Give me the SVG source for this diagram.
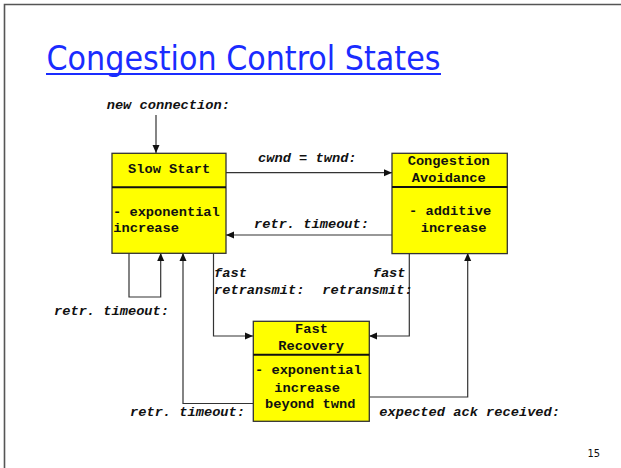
<svg xmlns="http://www.w3.org/2000/svg" width="621" height="468" viewBox="0 0 621 468">
<defs>
<marker id="ah" markerUnits="userSpaceOnUse" markerWidth="9" markerHeight="8" refX="8" refY="4" orient="auto">
<path d="M0,0.5 L8,4 L0,7.5 Z" fill="#111"/>
</marker>
<style>
.box{fill:#ffff00;stroke:#333;stroke-width:1.3}
.div{stroke:#111;stroke-width:2}
.bt{font-family:"Liberation Mono","Courier New",monospace;font-weight:bold;font-size:13.7px;fill:#111}
.lb{font-family:"Liberation Mono","Courier New",monospace;font-weight:bold;font-style:italic;font-size:13.7px;fill:#111}
.cn{fill:none;stroke:#333;stroke-width:1.2}
</style>
</defs>
<rect x="0" y="0" width="621" height="468" fill="#fff"/>
<path d="M4.5,468 V4.5 H621" fill="none" stroke="#555" stroke-width="1.6"/>
<g id="title">
<text x="46.5" y="69.5" font-family="'DejaVu Sans Condensed','DejaVu Sans',sans-serif" font-size="34" fill="#1a2cff" textLength="394" lengthAdjust="spacingAndGlyphs">Congestion Control States</text>
<rect x="46" y="73" width="395" height="2" fill="#1a2cff"/>
</g>
<g id="connectors">
<path class="cn" d="M156,115 V153" marker-end="url(#ah)"/>
<path class="cn" d="M226,172.7 H392" marker-end="url(#ah)"/>
<path class="cn" d="M392,235 H226" marker-end="url(#ah)"/>
<path class="cn" d="M129,253 V297 H160.7 V253" marker-end="url(#ah)"/>
<path class="cn" d="M253,403.5 H183 V253" marker-end="url(#ah)"/>
<path class="cn" d="M213.5,253 V336 H253" marker-end="url(#ah)"/>
<path class="cn" d="M409.3,253 V336 H369" marker-end="url(#ah)"/>
<path class="cn" d="M369,397 H467.7 V253" marker-end="url(#ah)"/>
</g>
<g id="labels">
<text class="lb" x="106.7" y="109">new connection:</text>
<text class="lb" x="258" y="161.7">cwnd = twnd:</text>
<text class="lb" x="254" y="228">retr. timeout:</text>
<text class="lb" x="214" y="277">fast</text>
<text class="lb" x="214" y="294">retransmit:</text>
<text class="lb" x="372.7" y="277">fast</text>
<text class="lb" x="322.3" y="294">retransmit:</text>
<text class="lb" x="54" y="315">retr. timeout:</text>
<text class="lb" x="130" y="415.7">retr. timeout:</text>
<text class="lb" x="379.3" y="415.7">expected ack received:</text>
</g>
<g id="slow-start">
<rect class="box" x="112" y="153.3" width="114" height="100"/>
<line class="div" x1="112" y1="187.3" x2="226" y2="187.3"/>
<text class="bt" x="128" y="173.3">Slow Start</text>
<text class="bt" x="113" y="216">- exponential</text>
<text class="bt" x="113.3" y="231.7">increase</text>
</g>
<g id="congestion-avoidance">
<rect class="box" x="392" y="153.3" width="115.3" height="100.3"/>
<line class="div" x1="392" y1="187" x2="507.3" y2="187"/>
<text class="bt" x="407.7" y="165">Congestion</text>
<text class="bt" x="411.8" y="181.7">Avoidance</text>
<text class="bt" x="409" y="215">- additive</text>
<text class="bt" x="420.7" y="231.7">increase</text>
</g>
<g id="fast-recovery">
<rect class="box" x="253.3" y="321.3" width="116" height="100"/>
<line class="div" x1="253.3" y1="354.7" x2="369.3" y2="354.7"/>
<text class="bt" x="295" y="332.7">Fast</text>
<text class="bt" x="278.3" y="350">Recovery</text>
<text class="bt" x="255" y="374">- exponential</text>
<text class="bt" x="274.3" y="391.7">increase</text>
<text class="bt" x="265" y="408">beyond twnd</text>
</g>
<text x="587.5" y="457" font-family="'DejaVu Sans Condensed','DejaVu Sans',sans-serif" font-size="11" fill="#111">15</text>
</svg>
